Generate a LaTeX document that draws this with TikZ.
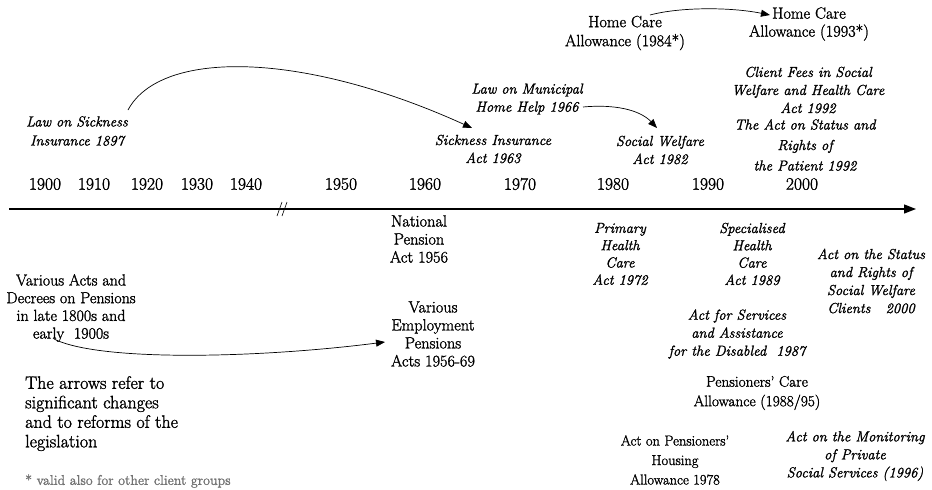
\documentclass[tikz,border=0pt]{standalone}
\usepackage{fontspec}
\setmainfont{Latin Modern Roman}[FakeBold=1.5,ItalicFeatures={FakeBold=1.5}]
\usetikzlibrary{arrows.meta}
\begin{document}
\begin{tikzpicture}[x=1pt,y=-1pt,
  txt/.style={inner sep=0pt,align=center,font=\fontsize{14.5}{18}\selectfont},
  big/.style={inner sep=0pt,align=center,font=\fontsize{16.3}{18}\selectfont},
  itx/.style={txt,font=\fontsize{14.5}{18}\selectfont\itshape},
  yr/.style={inner sep=0pt,font=\fontsize{17.5}{20}\selectfont},
  arr/.style={line width=0.7pt,-{Triangle[length=9pt,width=7pt]}}]
\useasboundingbox (0,0) rectangle (932,490);
% axis
\coordinate (axs) at (9,209);
\coordinate (axe) at (916,209);
\draw[line width=1.3pt,-{Triangle[length=12pt,width=9pt]}] (axs) -- (axe);
\coordinate (brk) at (282,209);
\draw[line width=0.6pt] ([shift={(-5,7)}]brk) -- ([shift={(0,-7)}]brk)
                       ([shift={(0,7)}]brk) -- ([shift={(5,-7)}]brk);
% years
\node[yr] (y1900) at (45,184) {1900};
\node[yr] (y1910) at (94,184) {1910};
\node[yr] (y1920) at (147,184) {1920};
\node[yr] (y1930) at (197,184) {1930};
\node[yr] (y1940) at (246,184) {1940};
\node[yr] (y1950) at (341,184) {1950};
\node[yr] (y1960) at (425,184) {1960};
\node[yr] (y1970) at (520,184) {1970};
\node[yr] (y1980) at (613,184) {1980};
\node[yr] (y1990) at (708,184) {1990};
\node[yr] (y2000) at (802,184) {2000};
% upper texts
\node[itx,font=\fontsize{14.5}{19}\selectfont\itshape] (lawsick) at (77,131) {Law on Sickness\\Insurance 1897};
\node[itx] (sickins) at (493,149) {Sickness Insurance\\Act 1963};
\node[itx] (homehelp) at (527,99) {Law on Municipal\\Home Help 1966};
\node[itx] (socwel) at (660,150) {Social Welfare\\Act 1982};
\node[big,font=\fontsize{16.3}{19}\selectfont] (hca84) at (625,33) {Home Care\\Allowance (1984*)};
\node[big] (hca93) at (809,24) {Home Care\\Allowance (1993*)};
\node[itx] (fees) at (808,90) {Client Fees in Social\\Welfare and Health Care\\Act 1992};
\node[itx,font=\fontsize{14.5}{20.5}\selectfont\itshape] (patient) at (805,145) {The Act on Status and\\Rights of\\the Patient 1992};
% lower texts
\node[big] (natpen) at (419,239) {National\\Pension\\Act 1956};
\node[big,font=\fontsize{16}{17.7}\selectfont] (various) at (71,308) {Various Acts and\\Decrees on Pensions\\in late 1800s and\\early\ \ 1900s};
\node[big] (employ) at (433,334) {Various\\Employment\\Pensions\\Acts 1956-69};
\node[itx,font=\fontsize{14.5}{17.3}\selectfont\itshape] (primary) at (620,254) {Primary\\Health\\Care\\Act 1972};
\node[itx,font=\fontsize{14.5}{17.3}\selectfont\itshape] (special) at (752,254) {Specialised\\Health\\Care\\Act 1989};
\node[itx] (clients) at (871,281) {Act on the Status\\and Rights of\\Social Welfare\\Clients\ \ \ 2000};
\node[itx] (disabled) at (737,334) {Act for Services\\and Assistance\\for the Disabled\ \ 1987};
\node[txt,font=\fontsize{15.3}{19.5}\selectfont] (pcare) at (757,393) {Pensioners’ Care\\Allowance (1988/95)};
\node[txt,font=\fontsize{14.5}{19.5}\selectfont] (housing) at (675,460) {Act on Pensioners’\\Housing\\Allowance 1978};
\node[itx] (monitor) at (855,456) {Act on the Monitoring\\of Private\\Social Services (1996)};
\node[inner sep=0pt,align=left,anchor=north west,font=\fontsize{18}{19.5}\selectfont] (note) at (25,376) {The arrows refer to\\significant changes\\and to reforms of the\\legislation};
\node[inner sep=0pt,anchor=west,text=black!55,font=\fontsize{14}{15}\selectfont] (foot) at (25,481) {* valid also for other client groups};
% arrows
\coordinate (a1s) at (128,110);
\coordinate (a1e) at (472,128);
\draw[arr] (a1s) .. controls (160,50) and (300,50) .. (a1e);
\coordinate (a2s) at (583,107);
\coordinate (a2e) at (657,128);
\draw[arr] (a2s) .. controls (615,104) and (640,110) .. (a2e);
\coordinate (a3s) at (650,15);
\coordinate (a3e) at (770,15);
\draw[arr] (a3s) .. controls (680,7) and (730,7) .. (a3e);
\coordinate (a4s) at (54,339);
\coordinate (a4e) at (385,342);
\draw[arr] (a4s) .. controls (100,362) and (260,358) .. (a4e);
\end{tikzpicture}
\end{document}
